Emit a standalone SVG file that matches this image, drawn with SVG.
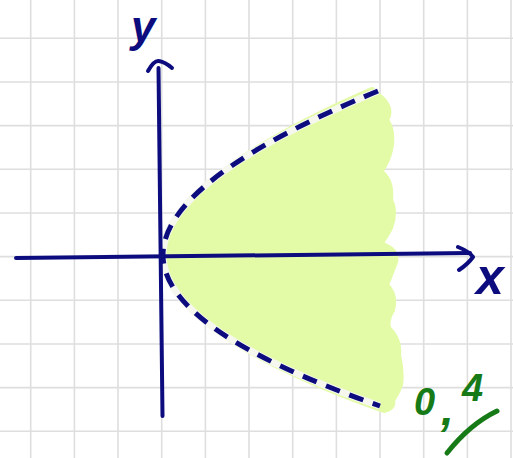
<svg xmlns="http://www.w3.org/2000/svg" width="513" height="458" viewBox="0 0 513 458">
<style>
.grid line{stroke:#dedede;stroke-width:1.6}
.ax{fill:none;stroke:#0c0c7e;stroke-width:4;stroke-linecap:round;stroke-linejoin:round}
.lbl{font-family:"Liberation Sans",Arial,sans-serif;fill:#0c0c7e;font-style:italic;font-weight:bold}
.grn{font-family:"Liberation Sans",Arial,sans-serif;fill:#167a16;font-weight:bold;font-style:italic}
</style>
<rect width="513" height="458" fill="#ffffff"/>
<g id="grid" class="grid">
<line x1="30.7" y1="0" x2="30.7" y2="458"/>
<line x1="74.4" y1="0" x2="74.4" y2="458"/>
<line x1="118" y1="0" x2="118" y2="458"/>
<line x1="161.7" y1="0" x2="161.7" y2="458"/>
<line x1="205.4" y1="0" x2="205.4" y2="458"/>
<line x1="249" y1="0" x2="249" y2="458"/>
<line x1="292.7" y1="0" x2="292.7" y2="458"/>
<line x1="336.4" y1="0" x2="336.4" y2="458"/>
<line x1="380" y1="0" x2="380" y2="458"/>
<line x1="423.7" y1="0" x2="423.7" y2="458"/>
<line x1="467.4" y1="0" x2="467.4" y2="458"/>
<line x1="511" y1="0" x2="511" y2="458"/>
<line x1="0" y1="38.3" x2="513" y2="38.3"/>
<line x1="0" y1="82" x2="513" y2="82"/>
<line x1="0" y1="125.6" x2="513" y2="125.6"/>
<line x1="0" y1="169.3" x2="513" y2="169.3"/>
<line x1="0" y1="213" x2="513" y2="213"/>
<line x1="0" y1="256.6" x2="513" y2="256.6"/>
<line x1="0" y1="300.3" x2="513" y2="300.3"/>
<line x1="0" y1="344" x2="513" y2="344"/>
<line x1="0" y1="387.6" x2="513" y2="387.6"/>
<line x1="0" y1="431.3" x2="513" y2="431.3"/>
</g>
<g id="region">
<path d="M372,90 L383,100 Q392,110 386,120 Q394,132 390,150 Q388,160 380,172 Q392,180 390,200 Q396,212 390,228 Q386,236 380,244 Q398,250 395,262 Q390,275 386,285 Q396,295 392,310 Q386,320 388,328 Q400,340 398,355 Q402,372 400,385 Q396,395 392,400 Q394,408 384,410 L378,408 Q163,330 166,255 Q166,180 372,90 Z" fill="#e3fba6" stroke="#e3fba6" stroke-width="6" stroke-linejoin="round"/>
</g>
<g id="curve">
<path d="M378,91 Q163,180 163,255 Q163,330 380,406" fill="none" stroke="#f6f8f0" stroke-width="7"/>
<path d="M378,91 Q163,180 163,255 Q163,330 380,406" fill="none" stroke="#0c0c7e" stroke-width="5" stroke-dasharray="15 10"/>
</g>
<g id="axes">
<path class="ax" d="M16,258 L470,253"/>
<path class="ax" d="M458,247 Q470,252 473,257 Q468,264 459,270"/>
<path class="ax" d="M162.5,416 L158.5,68"/>
<path class="ax" d="M148,71 Q154,60 159,61 Q165,62 172,68"/>
</g>
<g id="labels">
<text class="lbl" x="131" y="42" font-size="44">y</text>
<text class="lbl" x="476" y="294" font-size="50">x</text>
<text class="grn" font-size="38"><tspan x="414" y="415">0</tspan><tspan x="441" y="425" font-size="46">,</tspan><tspan x="462" y="401">4</tspan></text>
<path d="M447,453 Q470,424 497,411" fill="none" stroke="#167a16" stroke-width="5" stroke-linecap="round"/>
</g>
</svg>
